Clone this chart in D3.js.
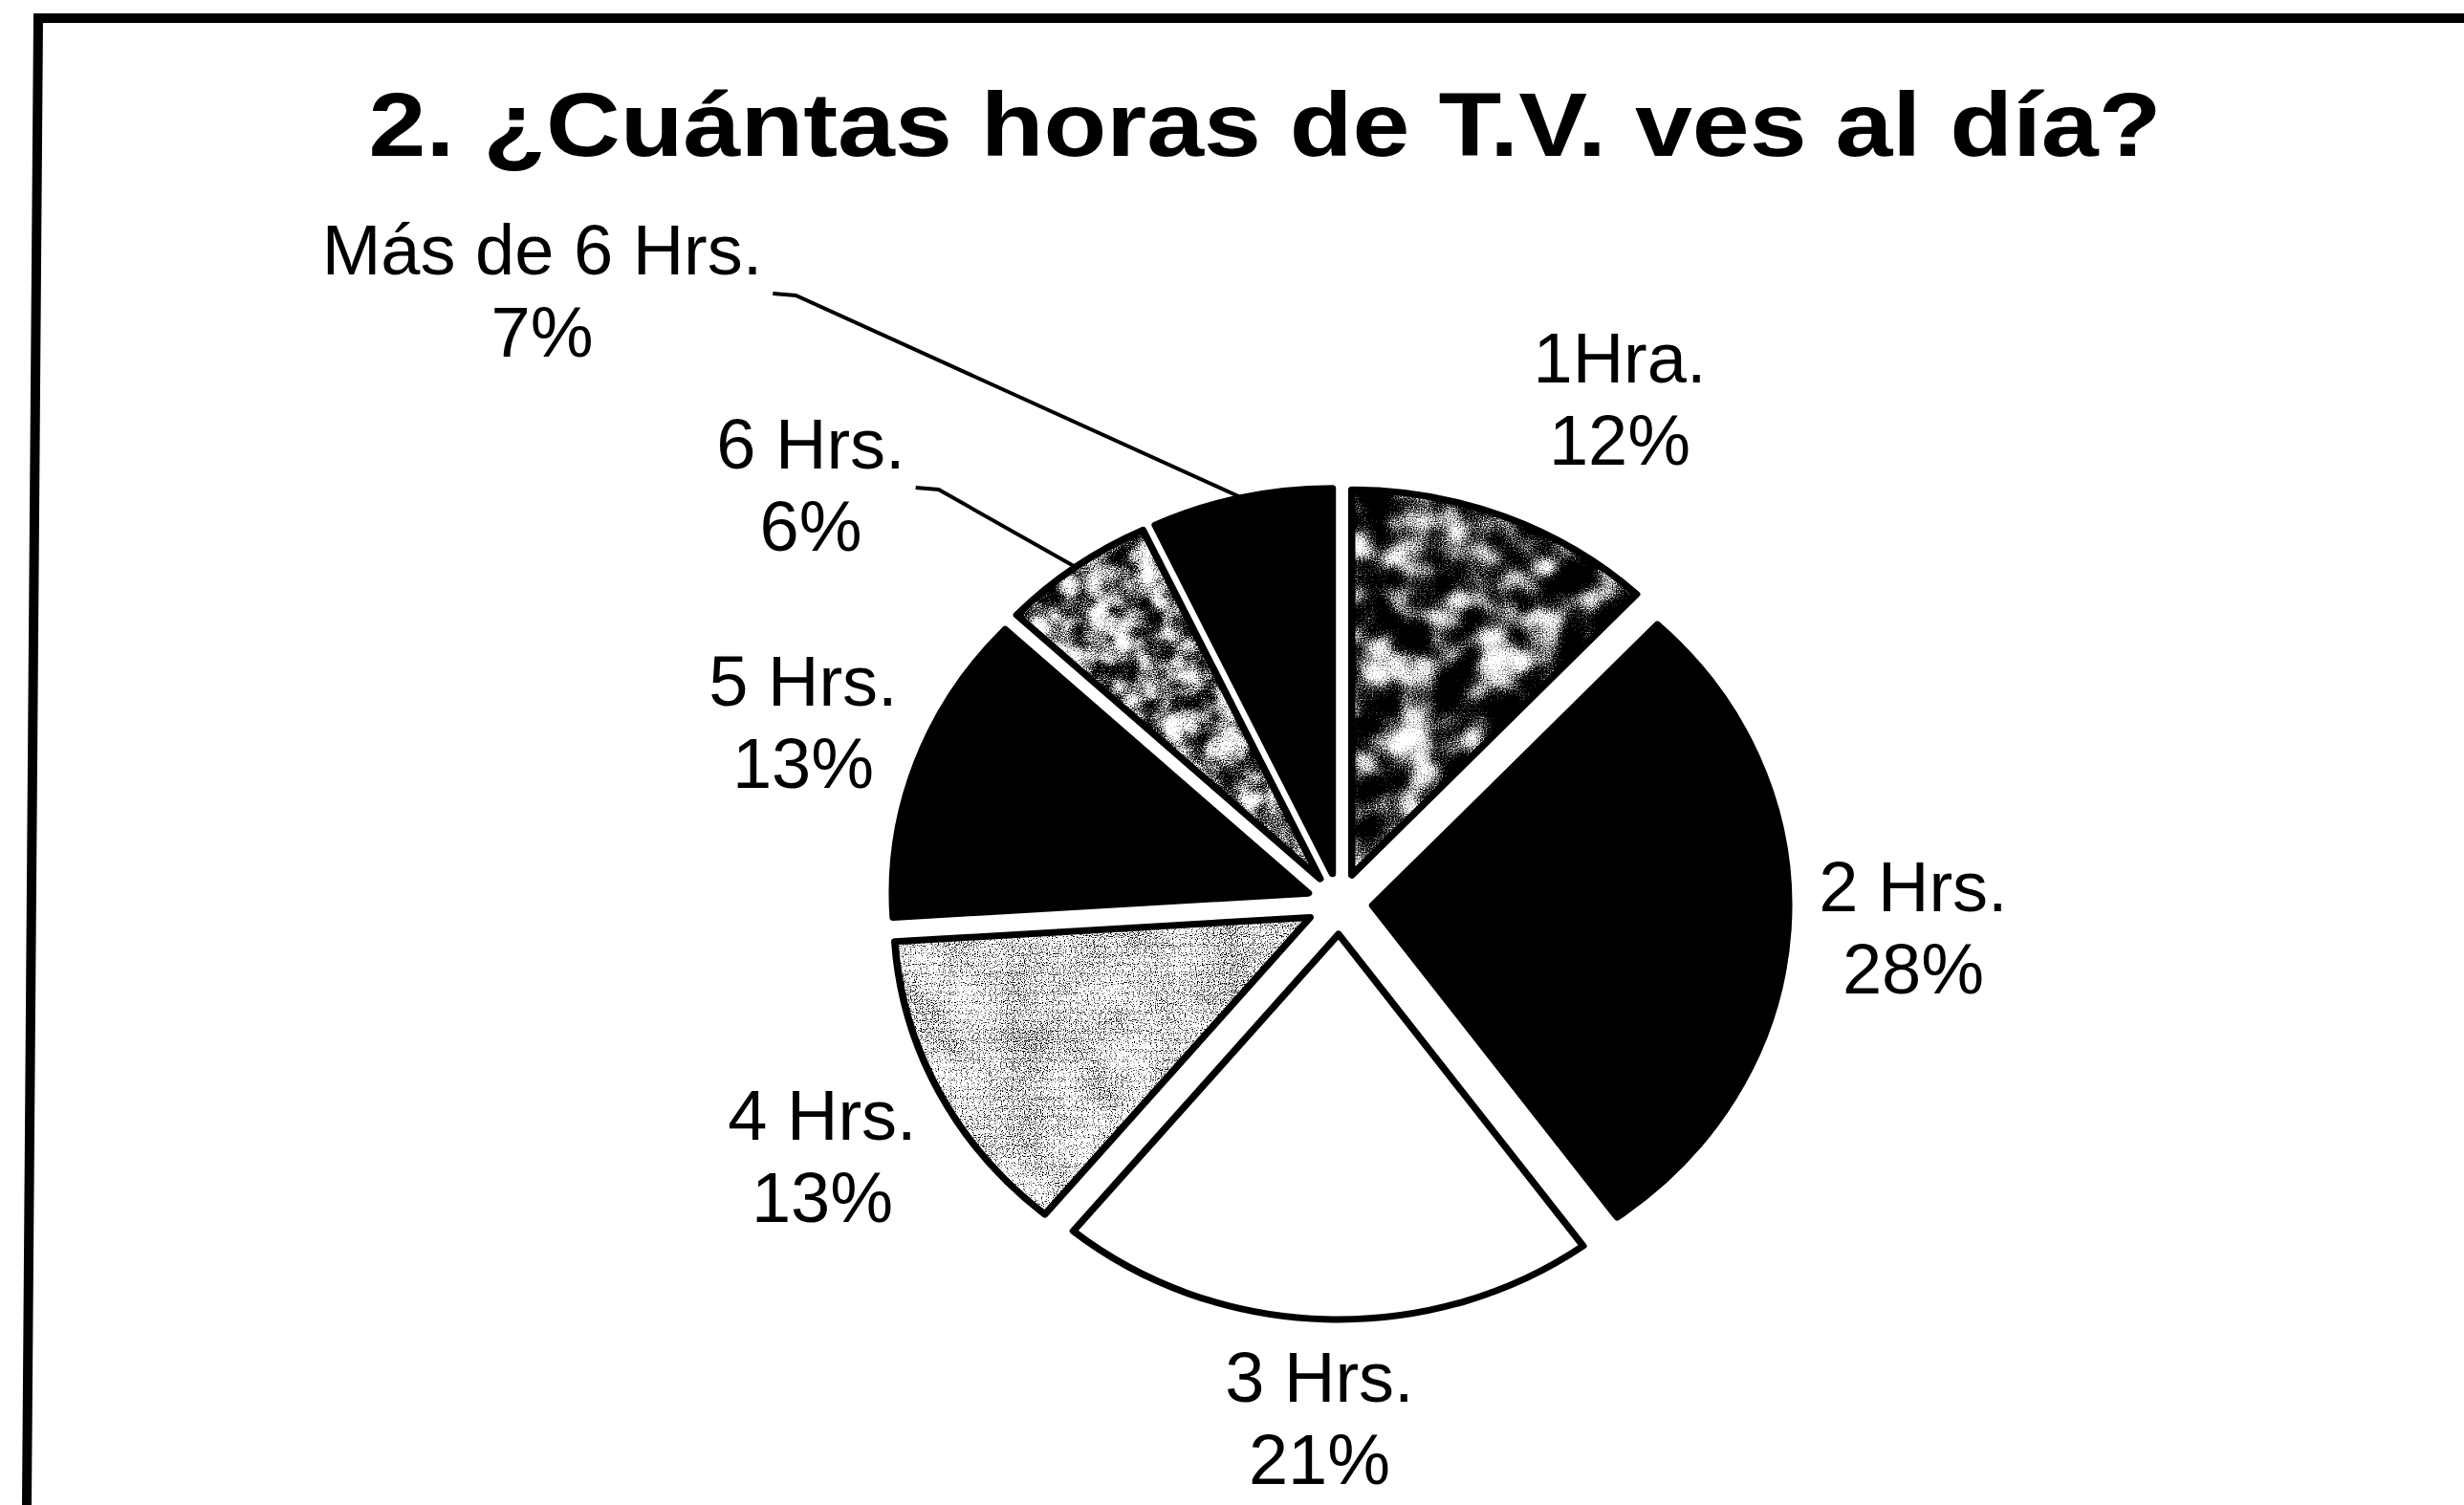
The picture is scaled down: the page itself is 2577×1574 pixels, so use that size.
<!DOCTYPE html>
<html>
<head>
<meta charset="utf-8">
<script src="https://cdn.jsdelivr.net/npm/d3@7"></script>
<style>
  html, body { margin: 0; padding: 0; background: #fff; }
  svg { display: block; }
  text { font-family: "Liberation Sans", Arial, sans-serif; fill: #000; }
</style>
</head>
<body>
<svg id="chart"></svg>
<script>
// data
const title = '2. ¿Cuántas horas de T.V. ves al día?';
const categories = ['1Hra.', '2 Hrs.', '3 Hrs.', '4 Hrs.', '5 Hrs.', '6 Hrs.', 'Más de 6 Hrs.'];
const values = [12, 28, 21, 13, 13, 6, 7];

// layout (label anchors = centre x / first baseline, as placed in the original)
const labelPos = [[1694, 400], [2001, 953], [1380, 1466], [860, 1192], [840, 738], [848, 490], [567, 287]];
const withLeader = [false, false, false, false, false, true, true];
// slice look: base fill + optional scanned texture filter
const sliceFill = ['#fff', '#000', '#fff', '#fff', '#000', '#fff', '#000'];
const sliceTexture = ['mottleDark', null, null, 'dotsLight', null, 'mottleMid', null];

const width = 2577, height = 1574;
const cx = 1401, cy = 945;
const radius = 403, explode = 32, squash = 1.08;  // scan is a bit wider than tall
const lineGap = 86;

const svg = d3.select('#chart').attr('width', width).attr('height', height);
const defs = svg.append('defs');

// noise textures imitating the black/white scan
function noiseFilter(id, freqBlob, freqGrain, wBlob, slope, offset, seed) {
  const f = defs.append('filter').attr('id', id)
    .attr('x', 0).attr('y', 0).attr('width', 1).attr('height', 1)
    .attr('color-interpolation-filters', 'sRGB');
  const opaque = '1 0 0 0 0  0 1 0 0 0  0 0 1 0 0  0 0 0 0 1';
  f.append('feTurbulence').attr('type', 'fractalNoise').attr('baseFrequency', freqBlob)
    .attr('numOctaves', 2).attr('seed', seed).attr('result', 'b0');
  f.append('feColorMatrix').attr('in', 'b0').attr('type', 'matrix').attr('values', opaque).attr('result', 'blob');
  f.append('feTurbulence').attr('type', 'fractalNoise').attr('baseFrequency', freqGrain)
    .attr('numOctaves', 1).attr('seed', seed + 11).attr('result', 'g0');
  f.append('feColorMatrix').attr('in', 'g0').attr('type', 'matrix').attr('values', opaque).attr('result', 'grain');
  f.append('feComposite').attr('in', 'blob').attr('in2', 'grain').attr('operator', 'arithmetic')
    .attr('k2', wBlob).attr('k3', 1 - wBlob).attr('result', 'mix');
  const row = `${slope} 0 0 0 ${offset}`;
  f.append('feColorMatrix').attr('in', 'mix').attr('type', 'matrix')
    .attr('values', `${row}  ${row}  ${row}  0 0 0 0 1`).attr('result', 'bw');
  f.append('feComposite').attr('in', 'bw').attr('in2', 'SourceGraphic').attr('operator', 'in');
}
noiseFilter('mottleDark', 0.025, 0.8, 0.6, 7, -3.3, 5);
noiseFilter('mottleMid', 0.04, 0.8, 0.5, 7, -3.0, 9);
noiseFilter('dotsLight', 0.02, 0.9, 0.15, 9, -3.2, 3);

// frame (scanned border, left edge slightly tilted)
svg.append('path')
  .attr('d', `M28,${height} L40,19 L${width},19`)
  .attr('fill', 'none').attr('stroke', '#000').attr('stroke-width', 10)
  .attr('stroke-linejoin', 'miter');

// title
svg.append('text')
  .attr('x', 1323).attr('y', 163)
  .attr('text-anchor', 'middle')
  .attr('font-size', 94).attr('font-weight', 'bold')
  .attr('textLength', 1875).attr('lengthAdjust', 'spacingAndGlyphs')
  .text(title);

// pie
const total = d3.sum(values);
const pct = d3.format('.0%');
const pie = d3.pie().sort(null).value(d => d)(values);
const arc = d3.arc().innerRadius(0).outerRadius(radius);

const pieG = svg.append('g').attr('transform', `translate(${cx},${cy}) scale(${squash},1)`);

const slices = pieG.selectAll('g.slice').data(pie).join('g')
  .attr('class', 'slice')
  .attr('transform', d => {
    const mid = (d.startAngle + d.endAngle) / 2;
    return `translate(${explode * Math.sin(mid)},${-explode * Math.cos(mid)})`;
  });

slices.append('path').attr('d', arc).attr('fill', (d, i) => sliceFill[i]);
slices.filter((d, i) => sliceTexture[i])
  .append('path').attr('d', arc).attr('fill', '#fff')
  .attr('filter', d => `url(#${sliceTexture[d.index]})`);
slices.append('path').attr('d', arc)
  .attr('fill', 'none').attr('stroke', '#000').attr('stroke-width', 7)
  .attr('stroke-linejoin', 'round');

// labels
const labelG = svg.append('g');
pie.forEach((d, i) => {
  const [lx, ly] = labelPos[i];
  const t = labelG.append('text').attr('text-anchor', 'middle').attr('font-size', 74);
  t.append('tspan').attr('x', lx).attr('y', ly).text(categories[i]);
  t.append('tspan').attr('x', lx).attr('y', ly + lineGap).text(pct(values[i] / total));

  if (withLeader[i]) {
    const w = t.select('tspan').node().getComputedTextLength();
    const sx = lx + w / 2 + 11, sy = ly + 20;
    const mid = (d.startAngle + d.endAngle) / 2;
    const rr = radius + explode;
    const ex = cx + squash * rr * Math.sin(mid), ey = cy - rr * Math.cos(mid);
    labelG.append('path')
      .attr('d', `M${sx},${sy} L${sx + 24},${sy + 2} L${ex},${ey}`)
      .attr('fill', 'none').attr('stroke', '#000').attr('stroke-width', 4);
  }
});
</script>
</body>
</html>
